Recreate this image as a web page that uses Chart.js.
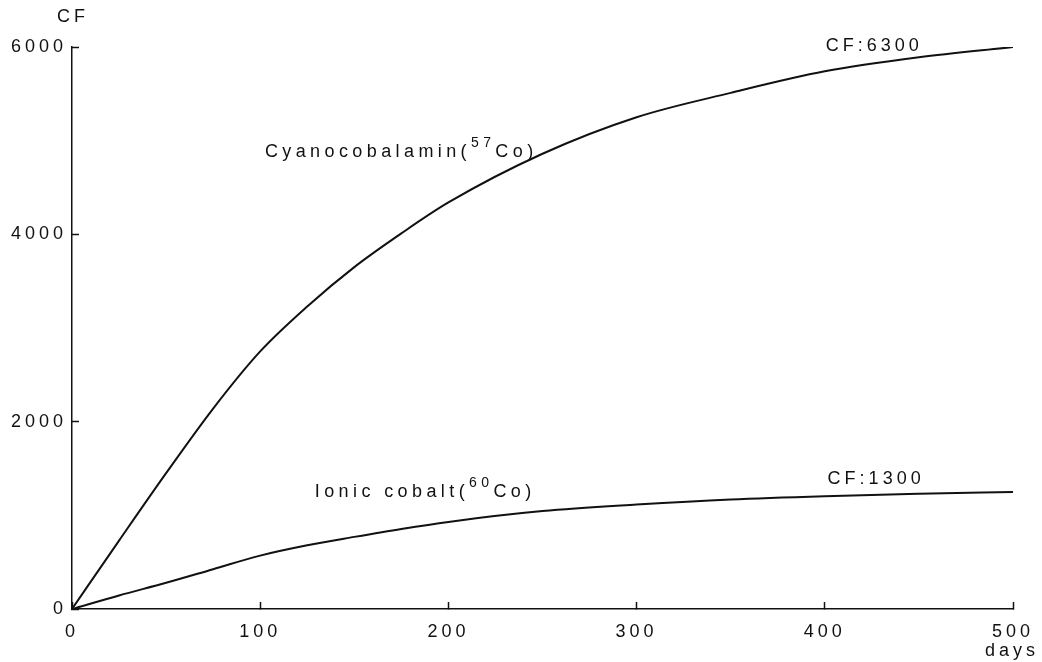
<!DOCTYPE html>
<html>
<head>
<meta charset="utf-8">
<script src="https://cdn.jsdelivr.net/npm/chart.js@4"></script>
<style>
  html, body { margin: 0; padding: 0; background: #fff; }
</style>
</head>
<body>
<canvas id="cf-chart" width="1042" height="662"></canvas>
<script>
// values
const days = [0, 25, 50, 75, 100, 125, 150, 175, 200, 250, 300, 350, 400, 450, 500];
const cyanocobalamin = [0, 730, 1450, 2140, 2750, 3230, 3650, 4010, 4340, 4860, 5250, 5510, 5740, 5890, 6000];
const ionicCobalt = [0, 145, 280, 425, 570, 680, 770, 855, 930, 1045, 1115, 1170, 1205, 1230, 1250];
const xTicks = [0, 100, 200, 300, 400, 500];
const yTicks = [0, 2000, 4000, 6000];

const FONT = '"Liberation Sans", Arial, sans-serif';

function toPoints(xs, ys) {
    return xs.map((x, i) => ({ x: x, y: ys[i] }));
}

// wide letter spacing like the original print
const spacing = {
    id: 'spacing',
    beforeLayout(chart) { chart.ctx.letterSpacing = '4px'; },
    beforeDraw(chart) { chart.ctx.letterSpacing = '4px'; }
};

function drawParts(ctx, x, y, parts) {
    parts.forEach(p => {
        ctx.font = (p.sup ? '14px ' : '18px ') + FONT;
        ctx.fillText(p.t, x, p.sup ? y - 10 : y);
        x += ctx.measureText(p.t).width;
    });
}

const labels = {
    id: 'labels',
    afterDraw(chart) {
        const ctx = chart.ctx;
        const xs = chart.scales.x;
        const ys = chart.scales.y;
        ctx.save();
        ctx.letterSpacing = '4.4px';
        ctx.fillStyle = '#111';
        ctx.textAlign = 'left';
        ctx.textBaseline = 'alphabetic';

        drawParts(ctx, xs.getPixelForValue(102.5), ys.getPixelForValue(4824), [
            { t: 'Cyanocobalamin(' }, { t: '57', sup: true }, { t: 'Co)' }
        ]);
        drawParts(ctx, xs.getPixelForValue(129), ys.getPixelForValue(1195), [
            { t: 'Ionic cobalt(' }, { t: '60', sup: true }, { t: 'Co)' }
        ]);
        ctx.letterSpacing = '4px';
        drawParts(ctx, xs.getPixelForValue(400.5), ys.getPixelForValue(5955), [{ t: 'CF:6300' }]);
        drawParts(ctx, xs.getPixelForValue(401.5), ys.getPixelForValue(1335), [{ t: 'CF:1300' }]);

        // axis names
        drawParts(ctx, xs.left - 15, ys.top - 25, [{ t: 'CF' }]);
        ctx.textAlign = 'right';
        ctx.font = '18px ' + FONT;
        ctx.fillText('days', xs.right + 26, xs.bottom - 6);
        ctx.restore();
    }
};

new Chart(document.getElementById('cf-chart'), {
    type: 'line',
    data: {
        datasets: [
            {
                label: 'Cyanocobalamin(57Co)',
                data: toPoints(days, cyanocobalamin),
                borderColor: '#111',
                borderWidth: 2,
                pointRadius: 0,
                cubicInterpolationMode: 'monotone',
                fill: false
            },
            {
                label: 'Ionic cobalt(60Co)',
                data: toPoints(days, ionicCobalt),
                borderColor: '#111',
                borderWidth: 2,
                pointRadius: 0,
                cubicInterpolationMode: 'monotone',
                fill: false
            }
        ]
    },
    options: {
        responsive: false,
        animation: false,
        devicePixelRatio: 1,
        layout: { padding: { top: 47, right: 29, left: 0, bottom: 0 } },
        plugins: {
            legend: { display: false },
            tooltip: { enabled: false }
        },
        scales: {
            x: {
                type: 'linear',
                min: 0,
                max: 500,
                afterBuildTicks: s => { s.ticks = xTicks.map(v => ({ value: v })); },
                afterFit: s => { s.height = 53; s.paddingLeft = 0; s.paddingRight = 0; },
                border: { color: '#111', width: 1.5 },
                grid: { drawOnChartArea: false, drawTicks: true, tickLength: -7, tickColor: '#111', tickWidth: 1.5 },
                ticks: { color: '#111', padding: 19, maxRotation: 0, font: { family: FONT, size: 18 } }
            },
            y: {
                min: 0,
                max: 6000,
                afterBuildTicks: s => { s.ticks = yTicks.map(v => ({ value: v })); },
                afterFit: s => { s.width = 72; s.paddingTop = 0; s.paddingBottom = 0; },
                border: { color: '#111', width: 1.5 },
                grid: { drawOnChartArea: false, drawTicks: true, tickLength: -7, tickColor: '#111', tickWidth: 1.5 },
                ticks: {
                    color: '#111',
                    padding: 12,
                    font: { family: FONT, size: 18 },
                    callback: v => String(v)
                }
            }
        }
    },
    plugins: [spacing, labels]
});
</script>
</body>
</html>
